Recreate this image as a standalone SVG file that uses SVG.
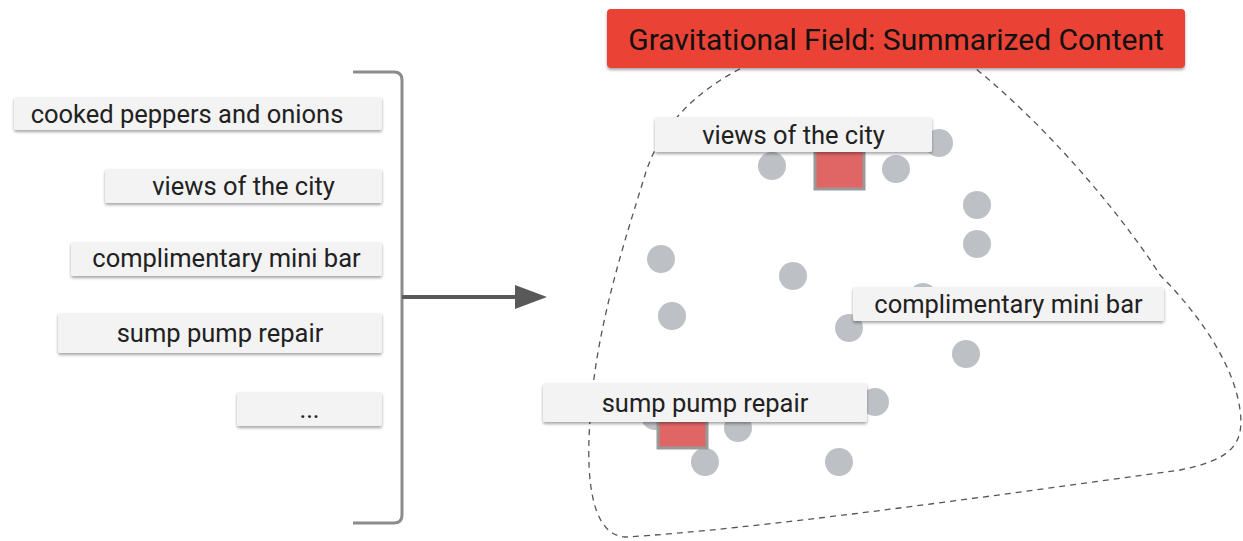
<svg xmlns="http://www.w3.org/2000/svg" width="1243" height="541" viewBox="0 0 1243 541">
  <defs>
    <filter id="shadow" x="-5%" y="-20%" width="110%" height="160%">
      <feDropShadow dx="0" dy="2" stdDeviation="1.5" flood-color="#000" flood-opacity="0.35"/>
    </filter>
    <marker id="arrowhead" markerWidth="8" markerHeight="6" refX="0" refY="3" orient="auto" markerUnits="strokeWidth">
      <path d="M0,0 L8,3 L0,6 Z" fill="#595959"/>
    </marker>
  </defs>
  <style>
    .card { fill: #f3f3f3; filter: url(#shadow); }
    .label { font-family: Roboto, "Liberation Sans", sans-serif; font-size: 25.5px; fill: #212121; text-anchor: middle; }
    .title-box { fill: #ea4335; filter: url(#shadow); }
    .title { font-family: Roboto, "Liberation Sans", sans-serif; font-size: 30px; fill: #111; text-anchor: middle; }
    .dot { fill: #bdc1c6; }
    .anchor { fill: #e06666; stroke: #999; stroke-width: 3; }
    .field { fill: none; stroke: #555; stroke-width: 1.3; stroke-dasharray: 6 5; }
    .bracket { fill: none; stroke: #8c8c8c; stroke-width: 3; }
    .flow { stroke: #595959; stroke-width: 4; fill: none; }
  </style>

  <!-- input phrases -->
  <g id="input-cooked-peppers">
    <rect class="card" x="14" y="97" width="368" height="33" rx="2"/>
    <text class="label" x="187" y="123">cooked peppers and onions</text>
  </g>
  <g id="input-views">
    <rect class="card" x="105" y="169" width="277" height="34" rx="2"/>
    <text class="label" x="243.5" y="195">views of the city</text>
  </g>
  <g id="input-minibar">
    <rect class="card" x="71" y="242" width="311" height="34" rx="2"/>
    <text class="label" x="226.5" y="267">complimentary mini bar</text>
  </g>
  <g id="input-sump-pump">
    <rect class="card" x="58" y="313" width="324" height="40" rx="2"/>
    <text class="label" x="220" y="342">sump pump repair</text>
  </g>
  <g id="input-more">
    <rect class="card" x="237" y="392" width="145" height="34" rx="2"/>
    <text class="label" x="309.5" y="418">...</text>
  </g>

  <!-- bracket and flow arrow -->
  <g id="connectors">
    <path class="bracket" d="M353,72 L394,72 Q402,72 402,80 L402,515 Q402,523 394,523 L353,523"/>
    <path class="flow" d="M402,297 L515,297" marker-end="url(#arrowhead)"/>
  </g>

  <!-- gravitational field boundary -->
  <g id="field">
    <path class="field" d="M770,55 C720,75 665,110 645,175 C625,240 595,330 590,420 C585,490 595,535 625,537 C750,530 1000,495 1180,470 C1230,460 1245,445 1240,410 C1235,370 1205,320 1160,275 C1135,235 1060,135 965,60 Z"/>
  </g>

  <!-- summarized content points -->
  <g id="points">
    <circle class="dot" cx="772" cy="166" r="14"/>
    <circle class="dot" cx="896" cy="169" r="14"/>
    <circle class="dot" cx="939" cy="143" r="14"/>
    <circle class="dot" cx="977" cy="205" r="14"/>
    <circle class="dot" cx="977" cy="244" r="14"/>
    <circle class="dot" cx="661" cy="259" r="14"/>
    <circle class="dot" cx="793" cy="276" r="14"/>
    <circle class="dot" cx="672" cy="316" r="14"/>
    <circle class="dot" cx="849" cy="328" r="14"/>
    <circle class="dot" cx="923" cy="297" r="14"/>
    <circle class="dot" cx="966" cy="354" r="14"/>
    <circle class="dot" cx="875" cy="402" r="14"/>
    <circle class="dot" cx="738" cy="428" r="14"/>
    <circle class="dot" cx="655" cy="416" r="14"/>
    <circle class="dot" cx="705" cy="462" r="14"/>
    <circle class="dot" cx="839" cy="462" r="14"/>
  </g>

  <!-- anchor points -->
  <g id="anchor-views">
    <rect class="anchor" x="815" y="140" width="49" height="49"/>
  </g>
  <g id="anchor-sump-pump">
    <rect class="anchor" x="658" y="399" width="49" height="49"/>
  </g>

  <!-- field labels -->
  <g id="field-views">
    <rect class="card" x="655" y="117" width="277" height="35" rx="2"/>
    <text class="label" x="793.5" y="144">views of the city</text>
  </g>
  <g id="field-minibar">
    <rect class="card" x="853" y="287" width="311" height="34" rx="2"/>
    <text class="label" x="1008.5" y="313">complimentary mini bar</text>
  </g>
  <g id="field-sump-pump">
    <rect class="card" x="543" y="383" width="324" height="39" rx="2"/>
    <text class="label" x="705" y="412">sump pump repair</text>
  </g>

  <!-- title -->
  <g id="title">
    <rect class="title-box" x="607" y="9" width="578" height="59" rx="4"/>
    <text class="title" x="896" y="50">Gravitational Field: Summarized Content</text>
  </g>
</svg>
